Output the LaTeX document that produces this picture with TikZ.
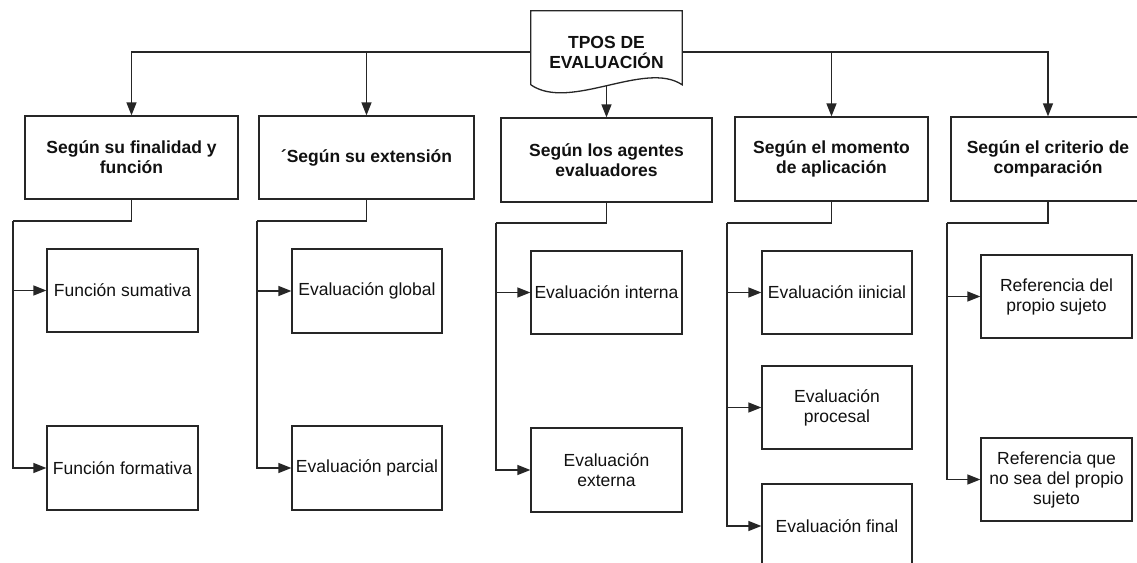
\documentclass[tikz,border=0pt]{standalone}
\usepackage{fontspec}
\setmainfont{Liberation Sans}
\usetikzlibrary{arrows.meta,calc}
\definecolor{linec}{HTML}{262626}
\definecolor{txt}{HTML}{111111}
\begin{document}
\begin{tikzpicture}[x=1pt,y=-1pt,
  every node/.style={font=\fontsize{17.5}{20}\selectfont, text=txt},
  box/.style={draw=linec, line width=1.3pt, inner sep=0pt, align=center, minimum height=84pt},
  head/.style={box, font=\fontsize{17.5}{20}\selectfont\bfseries},
  conn/.style={draw=linec, line width=1.3pt},
  arr/.style={conn, -{Triangle[length=13pt,width=10pt]}}]
\useasboundingbox (0,0) rectangle (1137,562);
\clip (0,0) rectangle (1137,562);
\fill[white] (0,0) rectangle (1137,562);

% title document shape
\node[inner sep=0pt, minimum width=151pt, minimum height=82pt, align=center,
      font=\fontsize{17.5}{20}\selectfont\bfseries] (t) at (606.5,52) {TPOS DE\\EVALUACIÓN};
\draw[conn, line join=miter]
  ($(t.north west)+(0,74)$) -- (t.north west) -- (t.north east) -- ($(t.north east)+(0,74)$)
  .. controls ($(t.north east)+(-37,49)$) and ($(t.north west)+(39,101)$) .. ($(t.north west)+(0,74)$);

% level 1
\node[head, minimum width=213pt, minimum height=83pt] (b1) at (131.5,157.5) {Según su finalidad y\\función};
\node[head, minimum width=215pt, minimum height=83pt] (b2) at (366.5,157.5) {´Según su extensión};
\node[head, minimum width=211pt] (b3) at (606.5,160) {Según los agentes\\evaluadores};
\node[head, minimum width=193pt] (b4) at (831.5,159) {Según el momento\\de aplicación};
\node[head, minimum width=194pt] (b5) at (1048,159) {Según el criterio de\\comparación};

% level 2
\node[box, minimum width=151pt, minimum height=83pt] (c11) at (122.5,290.5) {Función sumativa};
\node[box, minimum width=151pt] (c12) at (122.5,468) {Función formativa};
\node[box, minimum width=150pt] (c21) at (367,291) {Evaluación global};
\node[box, minimum width=150pt] (c22) at (367,468) {Evaluación parcial};
\node[box, minimum width=151pt, minimum height=83pt] (c31) at (606.5,292.5) {Evaluación interna};
\node[box, minimum width=151pt] (c32) at (606.5,470) {Evaluación\\externa};
\node[box, minimum width=150pt, minimum height=83pt] (c41) at (837,292.5) {Evaluación iinicial};
\node[box, minimum width=150pt, minimum height=83pt] (c42) at (837,407.5) {Evaluación\\procesal};
\node[box, minimum width=150pt] (c43) at (837,526) {Evaluación final};
\node[box, minimum width=151pt, minimum height=83pt] (c51) at (1056.5,296.5) {Referencia del\\propio sujeto};
\node[box, minimum width=151pt, minimum height=83pt] (c52) at (1056.5,479.5) {Referencia que\\no sea del propio\\sujeto};

% title connectors
\draw[arr] (t.west) -| (b1.north);
\draw[arr] (t.west) -| (b2.north);
\draw[arr] (t.east) -| (b4.north);
\draw[arr] (t.east) -| (b5.north);
\draw[arr] ($(t.north)+(0,75)$) -- (b3.north);

% branch coordinates
\coordinate (v1) at (13,221);
\coordinate (v2) at (257,221);
\coordinate (v3) at (496,223);
\coordinate (v4) at (727,223);
\coordinate (v5) at (947,223);

\draw[conn] (b1.south) |- (v1);
\draw[arr] (v1) |- (c11.west);
\draw[arr] (v1) |- (c12.west);
\draw[conn] (b2.south) |- (v2);
\draw[arr] (v2) |- (c21.west);
\draw[arr] (v2) |- (c22.west);
\draw[conn] (b3.south) |- (v3);
\draw[arr] (v3) |- (c31.west);
\draw[arr] (v3) |- (c32.west);
\draw[conn] (b4.south) |- (v4);
\draw[arr] (v4) |- (c41.west);
\draw[arr] (v4) |- (c42.west);
\draw[arr] (v4) |- (c43.west);
\draw[conn] (b5.south) |- (v5);
\draw[arr] (v5) |- (c51.west);
\draw[arr] (v5) |- (c52.west);
\end{tikzpicture}
\end{document}
